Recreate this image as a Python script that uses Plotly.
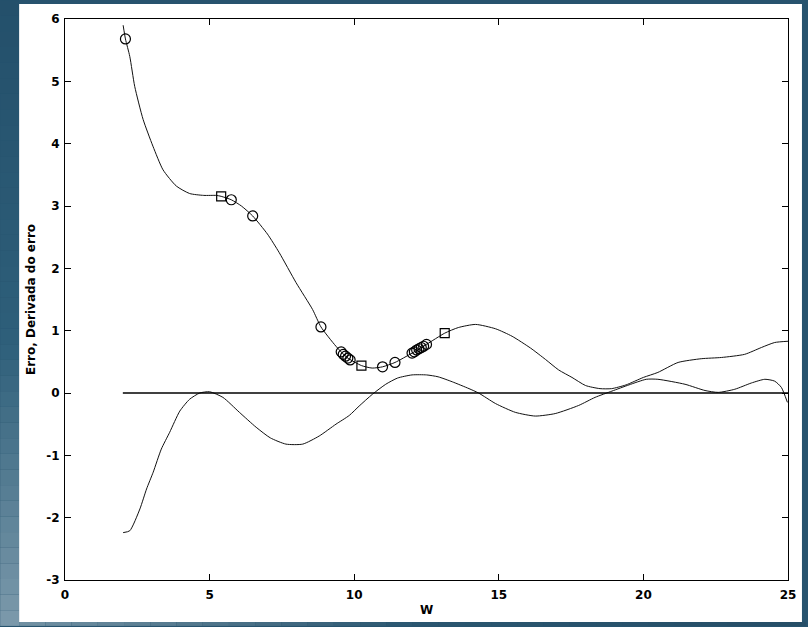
import plotly.graph_objects as go

# Error curve (Erro)
err_w = [2.01, 2.09, 2.24, 2.41, 2.70, 3.04, 3.39, 3.85, 4.31, 4.8, 5.23, 5.40, 5.75, 6.10, 6.49,
         7.0, 7.41, 7.99, 8.56, 8.85, 9.37, 9.75, 10.25, 10.62, 10.98, 11.41, 12.0, 12.5, 13.13,
         13.6, 14.2, 14.89, 15.46, 16.1, 16.61, 17.07, 17.53, 18.0, 18.5, 18.9, 19.4, 20.0, 20.5,
         21.2, 22.0, 22.7, 23.5, 24.08, 24.54, 25.0]
err_y = [5.90, 5.68, 5.40, 4.92, 4.39, 3.96, 3.58, 3.32, 3.20, 3.17, 3.17, 3.155, 3.10, 3.0, 2.84,
         2.55, 2.25, 1.77, 1.34, 1.06, 0.75, 0.57, 0.44, 0.40, 0.42, 0.49, 0.64, 0.78, 0.96,
         1.05, 1.10, 1.03, 0.91, 0.72, 0.54, 0.37, 0.25, 0.12, 0.07, 0.07, 0.13, 0.25, 0.33,
         0.49, 0.55, 0.57, 0.62, 0.73, 0.81, 0.83]

# Derivative curve (Derivada do erro)
der_w = [2.01, 2.24, 2.59, 2.82, 3.05, 3.33, 3.62, 3.97, 4.31, 4.66, 5.0, 5.46, 6.03, 6.61, 7.1,
         7.64, 8.22, 8.79, 9.37, 9.83, 10.17, 10.63, 11.09, 11.5, 12.0, 12.5, 12.9, 13.39, 13.97,
         14.3, 14.89, 15.57, 16.26, 16.95, 17.76, 18.33, 18.91, 19.5, 20.1, 20.5, 21.44, 22.13,
         22.59, 23.16, 23.73, 24.2, 24.54, 24.77, 24.98]
der_y = [-2.24, -2.21, -1.86, -1.54, -1.27, -0.90, -0.63, -0.29, -0.10, 0.0, 0.02, -0.07, -0.31,
         -0.55, -0.72, -0.82, -0.82, -0.69, -0.50, -0.36, -0.21, -0.02, 0.14, 0.24, 0.29, 0.29,
         0.26, 0.18, 0.07, 0.0, -0.17, -0.31, -0.37, -0.33, -0.20, -0.07, 0.03, 0.13, 0.22, 0.22,
         0.14, 0.04, 0.01, 0.06, 0.16, 0.22, 0.19, 0.09, -0.15]

# Zero reference line
zero_w = [2, 25]
zero_y = [0, 0]

# Markers on the error curve
circ_w = [2.09, 5.75, 6.49, 8.85, 9.55, 9.62, 9.70, 9.78, 9.86, 10.98, 11.41,
          12.0, 12.08, 12.16, 12.24, 12.32, 12.40, 12.5]
circ_y = [5.68, 3.10, 2.84, 1.06, 0.66, 0.62, 0.59, 0.56, 0.53, 0.42, 0.49,
          0.64, 0.66, 0.69, 0.71, 0.73, 0.75, 0.78]
sq_w = [5.40, 10.25, 13.13]
sq_y = [3.155, 0.44, 0.96]

x_ticks = [0, 5, 10, 15, 20, 25]
y_ticks = [-3, -2, -1, 0, 1, 2, 3, 4, 5, 6]

W, H = 808, 627
ML, MR, MT, MB = 65, 18, 19, 46
FONT = "DejaVu Sans, Liberation Sans, Arial, sans-serif"

fig = go.Figure()
fig.add_trace(go.Scatter(x=err_w, y=err_y, mode="lines",
                         line=dict(color="#111111", width=1, shape="spline", smoothing=0.6),
                         showlegend=False))
fig.add_trace(go.Scatter(x=der_w, y=der_y, mode="lines",
                         line=dict(color="#111111", width=1, shape="spline", smoothing=0.6),
                         showlegend=False))
fig.add_trace(go.Scatter(x=zero_w, y=zero_y, mode="lines",
                         line=dict(color="#000000", width=1.3), showlegend=False))
fig.add_trace(go.Scatter(x=circ_w, y=circ_y, mode="markers",
                         marker=dict(symbol="circle-open", size=10, color="#000000",
                                     line=dict(width=1.2, color="#000000")),
                         showlegend=False))
fig.add_trace(go.Scatter(x=sq_w, y=sq_y, mode="markers",
                         marker=dict(symbol="square-open", size=9, color="#000000",
                                     line=dict(width=1.2, color="#000000")),
                         showlegend=False))

pw = W - ML - MR
ph = H - MT - MB
def px(x):
    return (x - ML) / pw
def py(y):
    return (H - MB - y) / ph

def lerp_col(c0, c1, t):
    a = [int(c0[i:i + 2], 16) for i in (1, 3, 5)]
    b = [int(c1[i:i + 2], 16) for i in (1, 3, 5)]
    return "#%02x%02x%02x" % tuple(int(round(a[k] + (b[k] - a[k]) * t)) for k in range(3))

shapes = []
# left strip gradient (dark blue top -> lighter grey-blue bottom)
n = 40
for i in range(n):
    t = i / (n - 1)
    c = lerp_col("#24506b", "#2e5f7a", min(1, t / 0.55)) if t < 0.55 else lerp_col("#2e5f7a", "#7a98aa", (t - 0.55) / 0.45)
    shapes.append(dict(type="rect", xref="paper", yref="paper", layer="below",
                       x0=px(0), x1=px(19), y0=py(H * (i + 1) / n), y1=py(H * i / n),
                       fillcolor=c, line=dict(width=0)))
# bottom strip gradient left light -> right dark
m = 30
for i in range(m):
    t = i / (m - 1)
    c = lerp_col("#7090a2", "#2a5670", min(1, t / 0.5)) if t < 0.5 else lerp_col("#2a5670", "#264e67", (t - 0.5) / 0.5)
    shapes.append(dict(type="rect", xref="paper", yref="paper", layer="below",
                       x0=px(19 + (W - 19) * i / m), x1=px(19 + (W - 19) * (i + 1) / m),
                       y0=py(H), y1=py(623), fillcolor=c, line=dict(width=0)))
# white figure panel
shapes.append(dict(type="rect", xref="paper", yref="paper", layer="below",
                   x0=px(19), x1=px(804), y0=py(623), y1=py(4),
                   fillcolor="#ffffff", line=dict(width=0)))

fig.update_layout(
    width=W, height=H,
    margin=dict(l=ML, r=MR, t=MT, b=MB),
    paper_bgcolor="#27536e",
    plot_bgcolor="#ffffff",
    font=dict(family=FONT, size=12, color="#000000", weight="bold"),
    shapes=shapes,
    xaxis=dict(range=[0, 25], tickvals=x_ticks, ticktext=[str(v) for v in x_ticks],
               ticks="inside", ticklen=6, tickwidth=1, tickcolor="#000000",
               showline=True, linecolor="#000000", linewidth=1, mirror="ticks",
               showgrid=False, zeroline=False, ticklabelstandoff=4,
               title=dict(text="W", standoff=4, font=dict(family=FONT, size=12, weight="bold")),
               tickfont=dict(family=FONT, size=12, weight="bold")),
    yaxis=dict(range=[-3, 6], tickvals=y_ticks, ticktext=[str(v) for v in y_ticks],
               ticks="inside", ticklen=6, tickwidth=1, tickcolor="#000000",
               showline=True, linecolor="#000000", linewidth=1, mirror="ticks",
               showgrid=False, zeroline=False, ticklabelstandoff=2,
               title=dict(text="Erro, Derivada do erro", standoff=8,
                          font=dict(family=FONT, size=12, weight="bold")),
               tickfont=dict(family=FONT, size=12, weight="bold")),
)

fig.write_html("out.html", config={"displayModeBar": False},
               post_script="document.body.style.margin='0';document.body.style.overflow='hidden';")
